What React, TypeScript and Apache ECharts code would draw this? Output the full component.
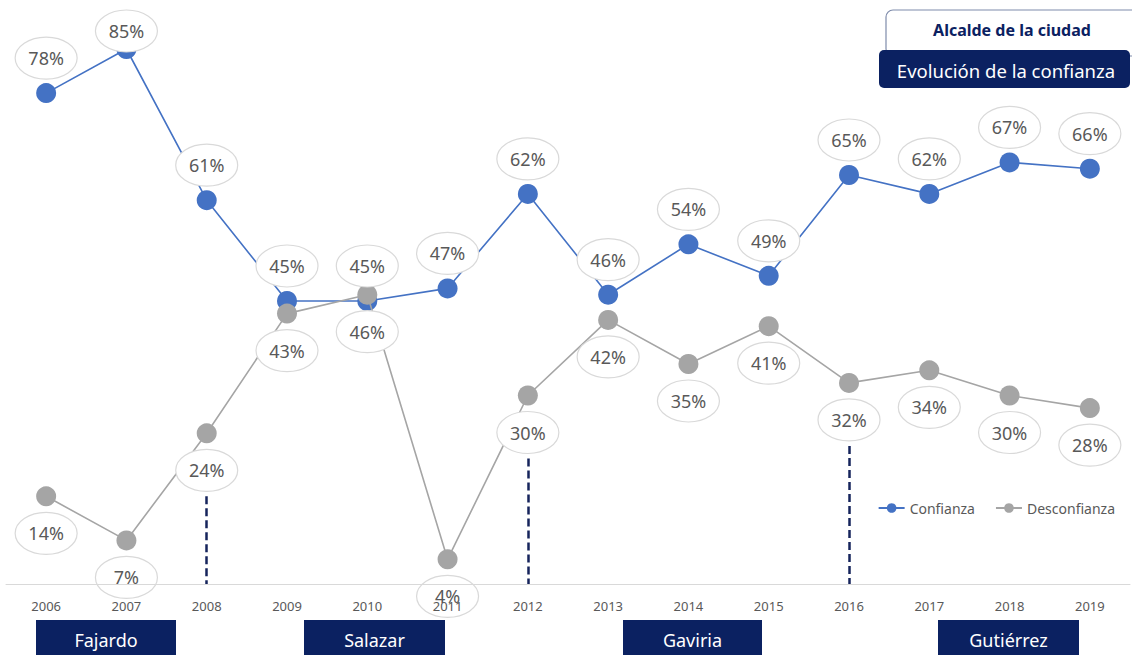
import React, { useEffect, useRef } from "react";
import * as echarts from "echarts";

const years = ["2006","2007","2008","2009","2010","2011","2012","2013","2014","2015","2016","2017","2018","2019"];
const confianza = [78, 85, 61, 45, 45, 47, 62, 46, 54, 49, 65, 62, 67, 66];
const desconfianza = [14, 7, 24, 43, 46, 4, 30, 42, 35, 41, 32, 34, 30, 28];
const termStartYears = ["2008", "2012", "2016"];
const mayors = ["Fajardo", "Salazar", "Gaviria", "Gutiérrez"];

const BLUE = "#4472C4";
const GRAY = "#A5A5A5";
const NAVY = "#0B2161";
const TXT = "#595959";
const FONT = "'Noto Sans', 'Open Sans', sans-serif";

function labelSeries(name: string, values: number[], below: boolean) {
  return {
    type: "custom",
    name: name + "-labels",
    z: 5,
    silent: true,
    clip: false,
    encode: { x: 0, y: 1 },
    data: values.map((v, i) => [i, v]),
    renderItem: (params: any, api: any) => {
      const p = api.coord([api.value(0), api.value(1)]);
      let cy = below ? p[1] + 37 : p[1] - 35;
      if (!below) cy = Math.max(cy, 31);
      return {
        type: "group",
        children: [
          {
            type: "ellipse",
            shape: { cx: p[0], cy, rx: 31, ry: 21 },
            style: { fill: "#ffffff", stroke: "#d9d9d9", lineWidth: 1.2 },
          },
          {
            type: "text",
            style: {
              text: api.value(1) + "%",
              x: p[0],
              y: cy,
              align: "center",
              verticalAlign: "middle",
              fill: TXT,
              fontSize: 18,
              fontFamily: FONT,
            },
          },
        ],
      };
    },
  };
}

export default function App() {
  const ref = useRef<HTMLDivElement>(null);
  useEffect(() => {
    document.body.style.margin = "0";
    const chart = echarts.init(ref.current!, null, { renderer: "svg" });
    const boxes = [
      { x: 36, w: 140 },
      { x: 304, w: 141 },
      { x: 623, w: 139 },
      { x: 938, w: 141 },
    ];
    const graphic: any[] = [
      {
        type: "rect",
        shape: { x: 886, y: 10, width: 260, height: 46, r: 7 },
        style: { fill: "#ffffff", stroke: "#7f8cab", lineWidth: 1.2 },
        z: 10,
      },
      {
        type: "text",
        style: {
          text: "Alcalde de la ciudad",
          x: 1012, y: 30, align: "center", verticalAlign: "middle",
          fill: NAVY, fontSize: 16, fontWeight: "bold", fontFamily: FONT,
        },
        z: 11,
      },
      {
        type: "rect",
        shape: { x: 879, y: 50, width: 251, height: 38, r: 5 },
        style: { fill: NAVY },
        z: 12,
      },
      {
        type: "text",
        style: {
          text: "Evolución de la confianza",
          x: 1006, y: 70, align: "center", verticalAlign: "middle",
          fill: "#ffffff", fontSize: 18.5, fontFamily: FONT,
        },
        z: 13,
      },
    ];
    mayors.forEach((m, i) => {
      const b = boxes[i];
      graphic.push({
        type: "rect",
        shape: { x: b.x, y: 620, width: b.w, height: 40 },
        style: { fill: NAVY },
        z: 10,
      });
      graphic.push({
        type: "text",
        style: {
          text: m, x: b.x + b.w / 2, y: 640, align: "center", verticalAlign: "middle",
          fill: "#ffffff", fontSize: 18, fontFamily: FONT,
        },
        z: 11,
      });
    });

    chart.setOption({
      animation: false,
      backgroundColor: "#ffffff",
      grid: { left: 6, right: 2, top: 17.5, bottom: 70.5, containLabel: false },
      legend: {
        data: ["Confianza", "Desconfianza"],
        right: 12,
        top: 496,
        itemWidth: 26,
        itemHeight: 12,
        itemGap: 20,
        textStyle: { color: TXT, fontSize: 14, fontFamily: FONT },
      },
      xAxis: {
        type: "category",
        data: years,
        z: 10,
        boundaryGap: true,
        axisLine: { lineStyle: { color: "#d9d9d9", width: 1 } },
        axisTick: { show: false },
        axisLabel: { color: TXT, fontSize: 13, fontFamily: FONT, margin: 15 },
      },
      yAxis: {
        type: "value",
        min: 0,
        max: 90,
        show: false,
        splitLine: { show: false },
      },
      graphic,
      series: [
        {
          name: "Confianza",
          type: "line",
          data: confianza,
          symbol: "circle",
          symbolSize: 20,
          z: 2,
          itemStyle: { color: BLUE },
          lineStyle: { color: BLUE, width: 1.6 },
          markLine: {
            silent: true,
            symbol: "none",
            label: { show: false },
            lineStyle: { color: "#16245c", width: 2.5, type: [8, 4] },
            data: termStartYears.map((y) => {
              const idx = years.indexOf(y);
              return [
                { coord: [y, desconfianza[idx] - 10] },
                { coord: [y, 0] },
              ];
            }),
          },
        },
        {
          name: "Desconfianza",
          type: "line",
          data: desconfianza,
          symbol: "circle",
          symbolSize: 20,
          z: 3,
          itemStyle: { color: GRAY },
          lineStyle: { color: GRAY, width: 1.6 },
        },
        labelSeries("Confianza", confianza, false),
        labelSeries("Desconfianza", desconfianza, true),
      ],
    });
    return () => chart.dispose();
  }, []);
  return (
    <div
      ref={ref}
      style={{ position: "absolute", left: 0, top: 0, width: 1132, height: 655 }}
    />
  );
}
